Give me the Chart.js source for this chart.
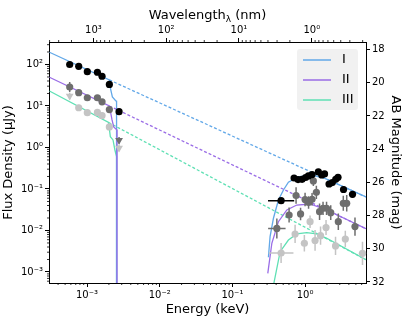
<!DOCTYPE html>
<html>
<head>
<meta charset="utf-8">
<script src="https://cdn.jsdelivr.net/npm/chart.js@4.4.1/dist/chart.umd.min.js"></script>
<style>
html, body { margin: 0; padding: 0; background: #fff; }
#wrap { width: 407px; height: 326px; }
</style>
</head>
<body>
<div id="wrap"><canvas id="sed"></canvas></div>
<script>
// axis ranges (keV, uJy)
const eMin = 3.044e-4, eMax = 6.89
const fMin = 5.43e-4, fMax = 348

// optical / NIR photometry, energy in keV, flux in uJy
const optE = [5.78e-4, 7.69e-4, 1.01e-3, 1.39e-3, 1.61e-3, 2.03e-3, 2.76e-3]
const optF1 = [100, 90.5, 67, 65, 52, 33, 7.3]
const optF2 = [28.7, 20.9, 15.8, 15.8, 12.6, 8.2, 1.49]
const optF3 = [17.4, 9.06, 6.9, 7.0, 5.9, 3.12, 0.97]
const optUL2 = [0, 0, 0, 0, 0, 0, 1]
const optUL3 = [1, 0, 0, 0, 0, 0, 1]
const optErr1 = [0.03, 0.03, 0.03, 0.03, 0.03, 0.03, 0.03]
const optErr2 = [0.12, 0.05, 0.05, 0.05, 0.05, 0.05, 0.08]
const optErr3 = [0.08, 0.07, 0.07, 0.07, 0.07, 0.07, 0.08]

// X-ray spectra
const xE1 = [0.468, 0.706, 0.801, 0.909, 1.016, 1.110, 1.248, 1.523, 1.696, 1.853, 2.137, 2.371, 2.641, 2.840, 3.381, 4.494]
const xF1 = [0.0522, 0.184, 0.169, 0.171, 0.189, 0.206, 0.223, 0.257, 0.217, 0.230, 0.132, 0.143, 0.171, 0.191, 0.0973, 0.0745]
const xErr1 = [0.06, 0.05, 0.05, 0.05, 0.05, 0.05, 0.05, 0.06, 0.06, 0.06, 0.06, 0.06, 0.06, 0.06, 0.07, 0.08]
const xBin1 = [0.18, 0.02, 0.02, 0.02, 0.02, 0.02, 0.02, 0.02, 0.02, 0.02, 0.02, 0.02, 0.02, 0.02, 0.03, 0.03]

const xE2 = [0.409, 0.603, 0.752, 0.867, 1.0, 1.117, 1.248, 1.300, 1.430, 1.582, 1.767, 1.974, 2.254, 2.867, 3.357, 3.740, 4.862]
const xF2 = [0.0112, 0.0236, 0.0697, 0.0250, 0.0558, 0.0473, 0.0565, 0.156, 0.0832, 0.0284, 0.0343, 0.0343, 0.0269, 0.0163, 0.0452, 0.0452, 0.0124]
const xErr2 = [0.24, 0.18, 0.2, 0.15, 0.16, 0.15, 0.15, 0.12, 0.16, 0.2, 0.16, 0.16, 0.18, 0.2, 0.18, 0.2, 0.22]
const xBin2 = [0.12, 0.03, 0.02, 0.02, 0.02, 0.02, 0.02, 0.02, 0.02, 0.02, 0.02, 0.02, 0.02, 0.03, 0.03, 0.03, 0.04]

const xE3 = [0.468, 0.729, 0.978, 1.171, 1.372, 1.633, 1.943, 2.624, 3.578, 6.164]
const xF3 = [0.00287, 0.00824, 0.00492, 0.0163, 0.00574, 0.00750, 0.0118, 0.00424, 0.00624, 0.00282]
const xErr3 = [0.24, 0.22, 0.2, 0.15, 0.25, 0.22, 0.18, 0.22, 0.2, 0.28]
const xBin3 = [0.17, 0.03, 0.03, 0.03, 0.03, 0.03, 0.03, 0.04, 0.04, 0.05]

// model curves: optical part, power-law extension, absorbed X-ray part
const m1OptE = [3.044e-4, 2.032e-3, 2.094e-3, 2.234e-3, 2.495e-3, 2.55e-3, 2.55e-3]
const m1OptF = [196.8, 42.4, 27.2, 16.5, 13.2, 13.0, 1e-6]
const m1DashE = [2.032e-3, 6.89]
const m1DashF = [42.4, 0.064]
const m1XE = [0.313, 0.330, 0.367, 0.430, 0.504, 0.590, 0.80, 1.25, 1.88, 6.89]
const m1XF = [0.00226, 0.0071, 0.0197, 0.0543, 0.0946, 0.146, 0.195, 0.217, 0.180, 0.064]

const m2OptE = [3.044e-4, 2.032e-3, 2.21e-3, 2.33e-3, 2.59e-3, 2.59e-3]
const m2OptF = [49.2, 10.0, 4.6, 3.12, 2.64, 1e-6]
const m2DashE = [2.032e-3, 6.89]
const m2DashF = [10.0, 0.011]
const m2XE = [0.307, 0.349, 0.430, 0.561, 0.769, 1.17, 1.99, 6.89]
const m2XF = [0.00093, 0.00492, 0.0163, 0.0312, 0.0411, 0.0435, 0.0312, 0.011]

const m3OptE = [3.044e-4, 1.98e-3, 2.094e-3, 2.28e-3, 2.42e-3, 2.55e-3, 2.55e-3]
const m3OptF = [23.0, 4.0, 1.82, 1.52, 0.87, 0.6, 1e-6]
const m3DashE = [1.98e-3, 6.89]
const m3DashF = [4.0, 0.00197]
const m3XE = [0.36, 0.454, 0.590, 0.769, 1.055, 1.45, 1.99, 6.89]
const m3XF = [0.0004, 0.00308, 0.0059, 0.00824, 0.00885, 0.00824, 0.00649, 0.00197]

const modelNames = ["I", "II", "III"]
const modelColors = ["#62a8e8", "#9a6de6", "#5fe0b4"]
const dataColors = ["#000000", "#6e6e6e", "#c4c4c4"]

// ticks
const energyTicks = [1e-3, 1e-2, 1e-1, 1]
const energyLabels = ["10⁻³", "10⁻²", "10⁻¹", "10⁰"]
const waveTicks = [1000, 100, 10, 1]
const waveLabels = ["10³", "10²", "10¹", "10⁰"]
const fluxTicks = [1e-3, 1e-2, 1e-1, 1, 10, 100]
const fluxLabels = ["10⁻³", "10⁻²", "10⁻¹", "10⁰", "10¹", "10²"]
const magTicks = [18, 20, 22, 24, 26, 28, 30, 32]

const pts = (xs, ys) => xs.map((v, i) => ({x: v, y: ys[i]}))

function logTicks(min, max) {
    const out = []
    for (let k = Math.floor(Math.log10(min)); k <= Math.ceil(Math.log10(max)); k++) {
        for (let m = 1; m < 10; m++) {
            const v = m * Math.pow(10, k)
            if (v >= min && v <= max) out.push({value: v, major: m === 1})
        }
    }
    return out
}

function labelFor(list, labels) {
    return (v) => {
        const i = list.findIndex(t => Math.abs(Math.log10(t) - Math.log10(v)) < 1e-6)
        return i >= 0 ? labels[i] : ""
    }
}

function lineSet(label, xs, ys, color, dashed, order) {
    return {
        label, data: pts(xs, ys), showLine: true, borderColor: color, backgroundColor: color,
        borderWidth: 1.3, borderDash: dashed ? [3, 2] : [], pointRadius: 0, order
    }
}

function dotSet(label, xs, ys, ul, errY, errX, color, order) {
    return {
        label, data: pts(xs, ys), showLine: false, backgroundColor: color, borderColor: color,
        pointStyle: c => ul[c.dataIndex] ? "triangle" : "circle",
        pointRotation: c => ul[c.dataIndex] ? 180 : 0,
        pointRadius: c => ul[c.dataIndex] ? 4.5 : 3.6,
        borderWidth: 0, errY, errX, order
    }
}

const zeros = n => new Array(n).fill(0)

const datasets = [
    dotSet("d1", optE.concat(xE1), optF1.concat(xF1), zeros(7 + xE1.length), optErr1.concat(xErr1), zeros(7).concat(xBin1), dataColors[0], 0),
    dotSet("d2", optE.concat(xE2), optF2.concat(xF2), optUL2.concat(zeros(xE2.length)), optErr2.concat(xErr2), zeros(7).concat(xBin2), dataColors[1], 1),
    dotSet("d3", optE.concat(xE3), optF3.concat(xF3), optUL3.concat(zeros(xE3.length)), optErr3.concat(xErr3), zeros(7).concat(xBin3), dataColors[2], 2),
    lineSet("I", m1OptE, m1OptF, modelColors[0], false, 6),
    lineSet("I-ext", m1DashE, m1DashF, modelColors[0], true, 6),
    lineSet("I-x", m1XE, m1XF, modelColors[0], false, 6),
    lineSet("II", m2OptE, m2OptF, modelColors[1], false, 5),
    lineSet("II-ext", m2DashE, m2DashF, modelColors[1], true, 5),
    lineSet("II-x", m2XE, m2XF, modelColors[1], false, 5),
    lineSet("III", m3OptE, m3OptF, modelColors[2], false, 7),
    lineSet("III-ext", m3DashE, m3DashF, modelColors[2], true, 7),
    lineSet("III-x", m3XE, m3XF, modelColors[2], false, 7)
]

// error bars drawn just before each point dataset
const errorBars = {
    id: "errorBars",
    beforeDatasetDraw(chart, args) {
        const ds = chart.data.datasets[args.index]
        if (!ds.errY) return
        const {ctx, scales: {x, y}} = chart
        ctx.save()
        ctx.strokeStyle = ds.backgroundColor
        ctx.lineWidth = 1.5
        ds.data.forEach((p, i) => {
            const px = x.getPixelForValue(p.x), py = y.getPixelForValue(p.y)
            ctx.beginPath()
            ctx.moveTo(px, y.getPixelForValue(p.y / Math.pow(10, ds.errY[i])))
            ctx.lineTo(px, y.getPixelForValue(p.y * Math.pow(10, ds.errY[i])))
            if (ds.errX[i]) {
                ctx.moveTo(x.getPixelForValue(p.x / Math.pow(10, ds.errX[i])), py)
                ctx.lineTo(x.getPixelForValue(p.x * Math.pow(10, ds.errX[i])), py)
            }
            ctx.stroke()
        })
        ctx.restore()
    }
}

// short minor ticks, legend box and top title with subscript
const extras = {
    id: "extras",
    afterDraw(chart) {
        const {ctx, chartArea: a} = chart
        ctx.save()
        ctx.strokeStyle = "#000"
        ctx.lineWidth = 0.8
        ;["x", "x2", "y"].forEach(id => {
            const s = chart.scales[id]
            s.ticks.forEach(t => {
                if (t.major) return
                const p = s.getPixelForValue(t.value)
                ctx.beginPath()
                if (id === "x") { ctx.moveTo(p, a.bottom); ctx.lineTo(p, a.bottom + 2) }
                if (id === "x2") { ctx.moveTo(p, a.top); ctx.lineTo(p, a.top - 2) }
                if (id === "y") { ctx.moveTo(a.left, p); ctx.lineTo(a.left - 2, p) }
                ctx.stroke()
            })
        })

        // legend
        ctx.fillStyle = "rgba(240,240,240,0.9)"
        ctx.beginPath()
        ctx.roundRect(297, 49, 61, 61, 3)
        ctx.fill()
        ctx.font = "13px 'DejaVu Sans'"
        ctx.textBaseline = "middle"
        modelNames.forEach((n, i) => {
            const yy = 60 + i * 20
            ctx.strokeStyle = modelColors[i]
            ctx.lineWidth = 1.5
            ctx.beginPath()
            ctx.moveTo(303, yy)
            ctx.lineTo(331, yy)
            ctx.stroke()
            ctx.fillStyle = "#000"
            ctx.fillText(n, 342, yy)
        })

        // top axis title
        const main = "Wavelength", sub = "λ", tail = " (nm)"
        ctx.font = "13px 'DejaVu Sans'"
        const w1 = ctx.measureText(main).width, w3 = ctx.measureText(tail).width
        ctx.font = "9px 'DejaVu Sans'"
        const w2 = ctx.measureText(sub).width
        let x0 = (a.left + a.right) / 2 - (w1 + w2 + w3) / 2
        ctx.fillStyle = "#000"
        ctx.textAlign = "left"
        ctx.font = "13px 'DejaVu Sans'"
        ctx.fillText(main, x0, 16)
        ctx.font = "9px 'DejaVu Sans'"
        ctx.fillText(sub, x0 + w1, 20)
        ctx.font = "13px 'DejaVu Sans'"
        ctx.fillText(tail, x0 + w1 + w2, 16)
        ctx.restore()
    }
}

const tickColor = c => (c.tick && c.tick.major) ? "#000" : "rgba(0,0,0,0)"
const gridOpts = {drawOnChartArea: false, drawTicks: true, tickLength: 4, tickColor}
const tickFont = {size: 10}
const titleFont = {size: 13}

Chart.defaults.font.family = "'DejaVu Sans'"
Chart.defaults.color = "#000"

new Chart(document.getElementById("sed"), {
    type: "scatter",
    data: {datasets},
    options: {
        responsive: true,
        maintainAspectRatio: false,
        animation: false,
        layout: {padding: 0},
        plugins: {legend: {display: false}, tooltip: {enabled: false}},
        scales: {
            x: {
                type: "logarithmic", position: "bottom", min: eMin, max: eMax,
                afterBuildTicks: s => { s.ticks = logTicks(eMin, eMax) },
                afterFit: s => { s.height = 43 },
                ticks: {autoSkip: false, maxRotation: 0, font: tickFont, padding: 2, callback: labelFor(energyTicks, energyLabels)},
                grid: gridOpts, border: {display: true, color: "#000"},
                title: {display: true, text: "Energy (keV)", font: titleFont, padding: {top: 0, bottom: 9}}
            },
            x2: {
                type: "logarithmic", position: "top", reverse: true, display: true,
                min: 1.23984 / eMax, max: 1.23984 / eMin,
                afterBuildTicks: s => { s.ticks = logTicks(1.23984 / eMax, 1.23984 / eMin) },
                afterFit: s => { s.height = 42 },
                ticks: {autoSkip: false, maxRotation: 0, font: tickFont, padding: 2, callback: labelFor(waveTicks, waveLabels)},
                grid: gridOpts, border: {display: true, color: "#000"}
            },
            y: {
                type: "logarithmic", position: "left", min: fMin, max: fMax,
                afterBuildTicks: s => { s.ticks = logTicks(fMin, fMax) },
                afterFit: s => { s.width = 49 },
                ticks: {autoSkip: false, font: tickFont, padding: 2, callback: labelFor(fluxTicks, fluxLabels)},
                grid: gridOpts, border: {display: true, color: "#000"},
                title: {display: true, text: "Flux Density (μJy)", font: titleFont, padding: {top: 1, bottom: 0}}
            },
            y2: {
                type: "linear", position: "right", reverse: true, display: true,
                min: 23.9 - 2.5 * Math.log10(fMax), max: 23.9 - 2.5 * Math.log10(fMin),
                afterBuildTicks: s => { s.ticks = magTicks.map(v => ({value: v, major: true})) },
                afterFit: s => { s.width = 41 },
                ticks: {autoSkip: false, font: tickFont, padding: 2},
                grid: {drawOnChartArea: false, drawTicks: true, tickLength: 4, tickColor: "#000"},
                border: {display: true, color: "#000"},
                title: {display: true, text: "AB Magnitude (mag)", font: titleFont, padding: {top: 4, bottom: 0}}
            }
        }
    },
    plugins: [errorBars, extras]
})
</script>
</body>
</html>
